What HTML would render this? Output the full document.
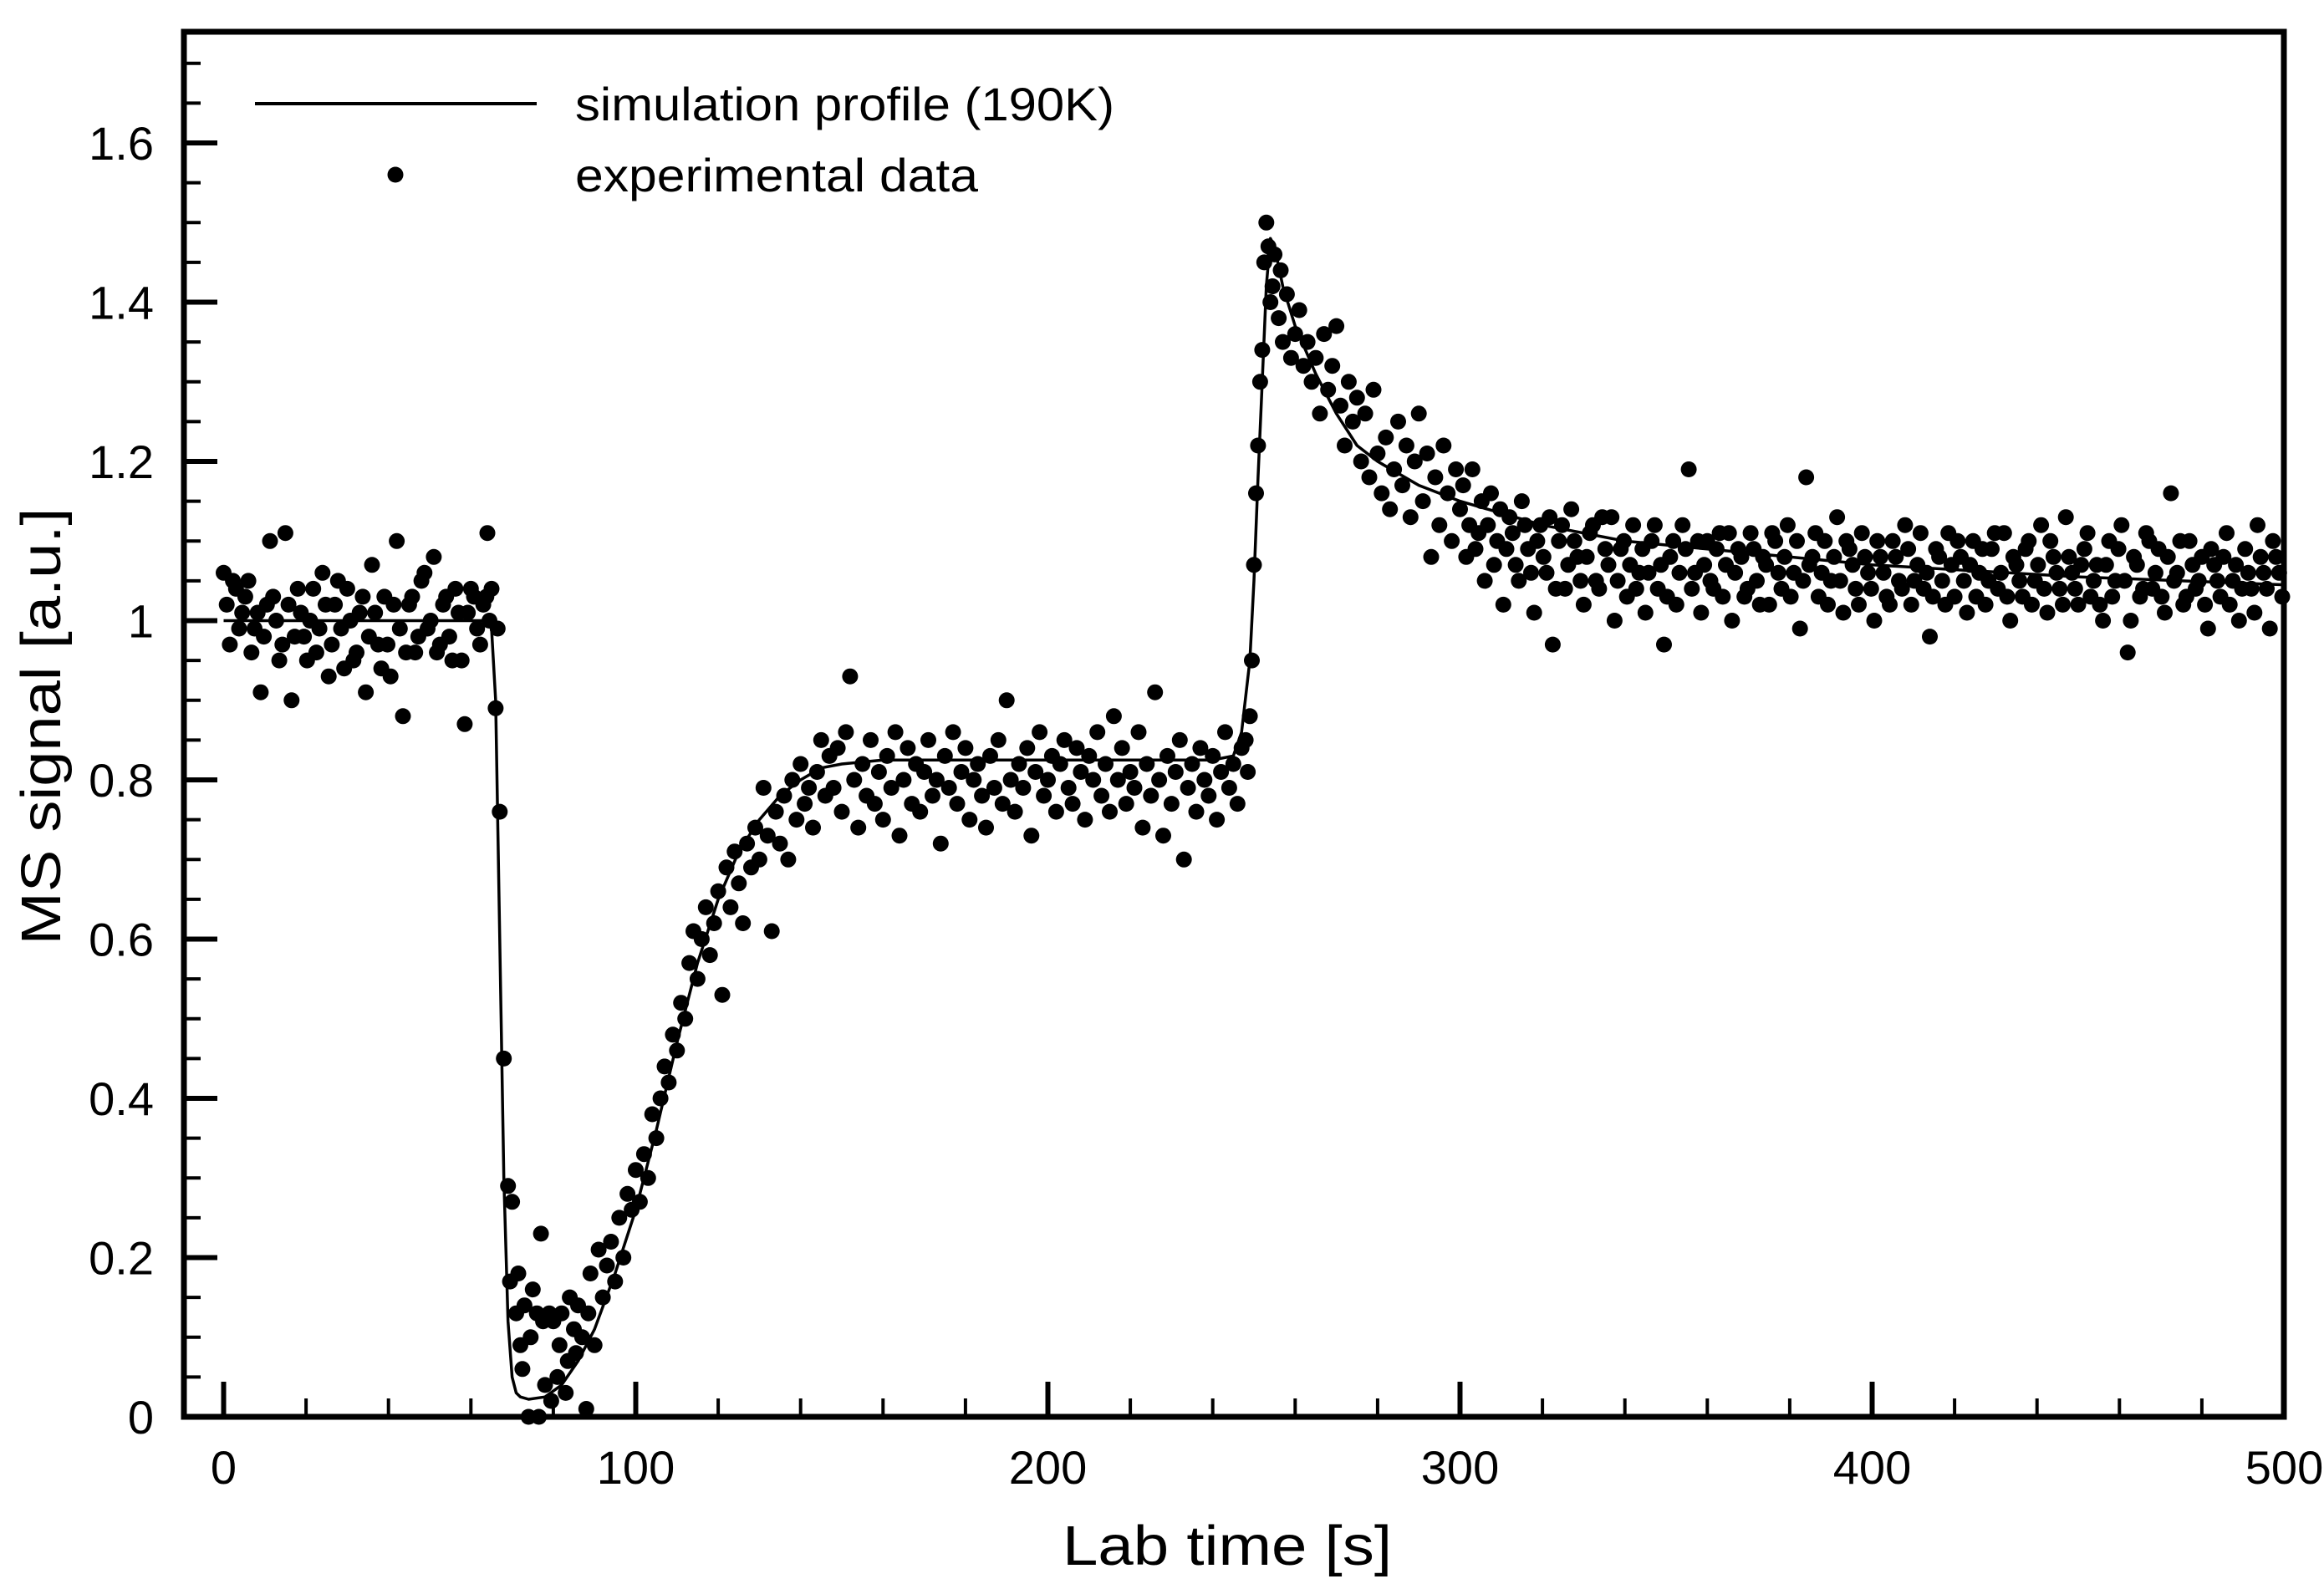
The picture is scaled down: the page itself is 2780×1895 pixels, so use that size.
<!DOCTYPE html>
<html><head><meta charset="utf-8"><style>
html,body{margin:0;padding:0;background:#fff;}
svg{display:block;font-family:"Liberation Sans",Arial,sans-serif;}
</style></head><body>
<svg id="chart" width="2780" height="1895" viewBox="0 0 2780 1895" xmlns="http://www.w3.org/2000/svg">
<rect width="2780" height="1895" fill="#fff"/>
<g id="plot"></g>
<g id="axes"></g>
<g id="legend">
  <line x1="305" y1="124" x2="642" y2="124" stroke="#000" stroke-width="4"/>
  <text x="688" y="144" font-size="56" textLength="645" lengthAdjust="spacingAndGlyphs">simulation profile (190K)</text>
  <circle cx="473" cy="209" r="9.5" fill="#000"/>
  <text x="688" y="229" font-size="56" textLength="482" lengthAdjust="spacingAndGlyphs">experimental data</text>
</g>
<text x="1468" y="1872" font-size="67" text-anchor="middle" textLength="394" lengthAdjust="spacingAndGlyphs">Lab time [s]</text>
<text transform="translate(72,869) rotate(-90)" font-size="67" text-anchor="middle" textLength="523" lengthAdjust="spacingAndGlyphs">MS signal [a.u.]</text>
</svg>
<script>
const xTicks=[0,100,200,300,400,500];
const yTicks=[0,0.2,0.4,0.6,0.8,1,1.2,1.4,1.6];
const yTickLabels=["0","0.2","0.4","0.6","0.8","1","1.2","1.4","1.6"];
const simT=[0,64,65,66,67,68,69,70,71,72,74,78,82,86,90,95,100,105,110,115,120,125,130,135,140,145,150,160,200,240,245,247,249,250,251,252,253,254,255,257,260,265,270,275,280,290,300,320,340,360,400,450,500];
const simV=[1,1,0.99,0.9,0.6,0.3,0.12,0.05,0.03,0.025,0.022,0.025,0.04,0.07,0.11,0.18,0.26,0.36,0.47,0.57,0.65,0.71,0.75,0.78,0.8,0.815,0.82,0.825,0.825,0.825,0.83,0.86,0.95,1.05,1.18,1.3,1.42,1.48,1.47,1.42,1.37,1.31,1.26,1.22,1.2,1.17,1.15,1.12,1.1,1.09,1.07,1.055,1.045];
const baseData=[[0,1.06],[1.5,0.97],[3,1.04],[4.5,1.01],[6,1.05],[7.5,0.99],[9,0.91],[10.5,1.02],[12,1.03],[13.5,0.95],[15,1.11],[16.5,0.9],[18,1.04],[19.5,0.98],[21,1.0],[22.5,0.96],[24,1.06],[25.5,0.93],[27,1.02],[28.5,0.99],[30,1.04],[31.5,0.95],[33,1.01],[34.5,0.91],[36,1.07],[37.5,0.97],[39,1.03],[40.5,0.93],[42,1.1],[43.5,0.88],[45,1.02],[46.5,0.96],[48,1.05],[49.5,0.99],[51,1.08],[52.5,0.97],[54,1.03],[55.5,0.95],[57,1.01],[58.5,0.87],[60,1.04],[61.5,0.99],[63,1.02],[64,1.11],[64.5,1.0],[65,1.04]];
const baseData2=[[0.75,1.02],[2.25,1.05],[3.75,0.99],[5.25,1.03],[6.75,0.96],[8.25,1.01],[9.75,0.98],[11.25,1.1],[12.75,1.0],[14.25,0.97],[15.75,1.02],[17.25,0.98],[18.75,1.01],[20.25,0.95],[21.75,1.04],[23.25,0.99],[24.75,1.02],[26.25,0.97],[27.75,1.05],[29.25,0.94],[30.75,1.0],[32.25,0.96],[33.75,1.03],[35.25,0.98],[36.75,1.01],[38.25,0.94],[39.75,0.97],[41.25,1.02],[42.75,0.99],[44.25,0.96],[45.75,1.03],[47.25,0.98],[48.75,1.06],[50.25,1.0],[51.75,0.96],[53.25,1.02],[54.75,0.98],[56.25,1.04],[57.75,0.95],[59.25,1.01],[60.75,1.03],[62.25,0.97],[63.75,1.03]];
const dropData=[[66,0.89],[66.5,0.99],[67,0.76],[68,0.45],[69,0.29],[69.5,0.17],[70,0.27],[71,0.13],[71.5,0.18],[72,0.09],[72.5,0.06],[73,0.14],[74,0.0],[74.5,0.1],[75,0.16],[76,0.13],[76.5,0.0],[77,0.23],[77.5,0.12],[78,0.04],[79,0.13],[79.5,0.02],[80,0.12],[81,0.05],[81.5,0.09],[82,0.13],[83,0.03],[83.5,0.07],[84,0.15],[85,0.11],[85.5,0.08],[86,0.14],[87,0.1],[88,0.01],[88.5,0.13],[89,0.18],[90,0.09],[91,0.21],[92,0.15],[93,0.19],[94,0.22],[95,0.17],[96,0.25],[97,0.2],[98,0.28],[99,0.26],[100,0.31],[101,0.27],[102,0.33],[103,0.3],[104,0.38],[105,0.35],[106,0.4],[107,0.44],[108,0.42],[109,0.48],[110,0.46],[111,0.52],[112,0.5],[113,0.57],[114,0.61],[115,0.55],[116,0.6],[117,0.64],[118,0.58],[119,0.62],[120,0.66],[121,0.53],[122,0.69],[123,0.64],[124,0.71],[125,0.67],[126,0.62],[127,0.72],[128,0.69],[129,0.74],[130,0.7],[131,0.79],[132,0.73],[133,0.61],[134,0.76],[135,0.72],[136,0.78],[137,0.7],[138,0.8],[139,0.75],[140,0.82],[141,0.77],[142,0.79],[143,0.74],[144,0.81],[145,0.85],[146,0.78],[147,0.83]];
const plateauData=[[148,0.79],[149,0.84],[150,0.76],[151,0.86],[152,0.93],[153,0.8],[154,0.74],[155,0.82],[156,0.78],[157,0.85],[158,0.77],[159,0.81],[160,0.75],[161,0.83],[162,0.79],[163,0.86],[164,0.73],[165,0.8],[166,0.84],[167,0.77],[168,0.82],[169,0.76],[170,0.81],[171,0.85],[172,0.78],[173,0.8],[174,0.72],[175,0.83],[176,0.79],[177,0.86],[178,0.77],[179,0.81],[180,0.84],[181,0.75],[182,0.8],[183,0.82],[184,0.78],[185,0.74],[186,0.83],[187,0.79],[188,0.85],[189,0.77],[190,0.9],[191,0.8],[192,0.76],[193,0.82],[194,0.79],[195,0.84],[196,0.73],[197,0.81],[198,0.86],[199,0.78],[200,0.8],[201,0.83],[202,0.76],[203,0.82],[204,0.85],[205,0.79],[206,0.77],[207,0.84],[208,0.81],[209,0.75],[210,0.83],[211,0.8],[212,0.86],[213,0.78],[214,0.82],[215,0.76],[216,0.88],[217,0.8],[218,0.84],[219,0.77],[220,0.81],[221,0.79],[222,0.86],[223,0.74],[224,0.82],[225,0.78],[226,0.91],[227,0.8],[228,0.73],[229,0.83],[230,0.77],[231,0.81],[232,0.85],[233,0.7],[234,0.79],[235,0.82],[236,0.76],[237,0.84],[238,0.8],[239,0.78],[240,0.83],[241,0.75],[242,0.81],[243,0.86],[244,0.79],[245,0.82],[246,0.77],[247,0.84]];
const spikeData=[[248,0.85],[248.5,0.81],[249,0.88],[249.5,0.95],[250,1.07],[250.5,1.16],[251,1.22],[251.5,1.3],[252,1.34],[252.5,1.45],[253,1.5],[253.5,1.47],[254,1.4],[254.5,1.42],[255,1.46],[256,1.38],[256.5,1.44],[257,1.35],[258,1.41],[259,1.33],[260,1.36],[261,1.39],[262,1.32],[263,1.35],[264,1.3],[265,1.33],[266,1.26],[267,1.36],[268,1.29],[269,1.32],[270,1.37],[271,1.27],[272,1.22],[273,1.3],[274,1.25],[275,1.28],[276,1.2],[277,1.26],[278,1.18],[279,1.29],[280,1.21],[281,1.16],[282,1.23],[283,1.14],[284,1.19],[285,1.25],[286,1.17],[287,1.22],[288,1.13],[289,1.2],[290,1.26],[291,1.15],[292,1.21],[293,1.08],[294,1.18],[295,1.12],[296,1.22],[297,1.16],[298,1.1],[299,1.19]];
const tailData=[[300,1.14],[301.5,1.08],[303,1.19],[304.5,1.11],[306,1.05],[307.5,1.16],[309,1.1],[310.5,1.02],[312,1.13],[313.5,1.07],[315,1.15],[316.5,1.09],[318,1.01],[319.5,1.12],[321,1.06],[322.5,0.97],[324,1.1],[325.5,1.04],[327,1.14],[328.5,1.08],[330,1.02],[331.5,1.11],[333,1.05],[334.5,1.13],[336,1.07],[337.5,1.0],[339,1.09],[340.5,1.03],[342,1.12],[343.5,1.06],[345,1.01],[346.5,1.1],[348,1.04],[349.5,0.97],[351,1.08],[352.5,1.02],[354,1.12],[355.5,1.19],[357,1.06],[358.5,1.01],[360,1.1],[361.5,1.04],[363,1.11],[364.5,1.07],[366,1.0],[367.5,1.09],[369,1.03],[370.5,1.11],[372,1.05],[373.5,1.08],[375,1.02],[376.5,1.1],[378,1.04],[379.5,1.12],[381,1.06],[382.5,0.99],[384,1.18],[385.5,1.08],[387,1.03],[388.5,1.1],[390,1.05],[391.5,1.13],[393,1.01],[394.5,1.09],[396,1.04],[397.5,1.11],[399,1.06],[400.5,1.0],[402,1.08],[403.5,1.03],[405,1.1],[406.5,1.05],[408,1.12],[409.5,1.02],[411,1.07],[412.5,1.04],[414,0.98],[415.5,1.09],[417,1.05],[418.5,1.11],[420,1.03],[421.5,1.08],[423,1.01],[424.5,1.1],[426,1.06],[427.5,1.02],[429,1.09],[430.5,1.04],[432,1.11],[433.5,1.0],[435,1.07],[436.5,1.03],[438,1.1],[439.5,1.05],[441,1.12],[442.5,1.01],[444,1.08],[445.5,1.04],[447,1.13],[448.5,1.06],[450,1.02],[451.5,1.09],[453,1.03],[454.5,1.07],[456,1.0],[457.5,1.1],[459,1.05],[460.5,1.12],[462,0.96],[463.5,1.08],[465,1.03],[466.5,1.11],[468,1.04],[469.5,1.09],[471,1.01],[472.5,1.16],[474,1.06],[475.5,1.02],[477,1.1],[478.5,1.04],[480,1.08],[481.5,0.99],[483,1.07],[484.5,1.03],[486,1.11],[487.5,1.05],[489,1.0],[490.5,1.09],[492,1.04],[493.5,1.12],[495,1.06],[496.5,0.99],[498,1.08],[499.5,1.03]];
const tailData2=[[300.75,1.17],[302.25,1.12],[303.75,1.09],[305.25,1.15],[306.75,1.12],[308.25,1.07],[309.75,1.14],[311.25,1.09],[312.75,1.11],[314.25,1.05],[315.75,1.12],[317.25,1.06],[318.75,1.1],[320.25,1.08],[321.75,1.13],[323.25,1.04],[324.75,1.12],[326.25,1.07],[327.75,1.1],[329.25,1.05],[330.75,1.08],[332.25,1.12],[333.75,1.04],[335.25,1.09],[336.75,1.13],[338.25,1.05],[339.75,1.1],[341.25,1.07],[342.75,1.04],[344.25,1.09],[345.75,1.06],[347.25,1.12],[348.75,1.07],[350.25,1.03],[351.75,1.1],[353.25,1.06],[354.75,1.09],[356.25,1.04],[357.75,1.1],[359.25,1.07],[360.75,1.05],[362.25,1.09],[363.75,1.03],[365.25,1.11],[366.75,1.06],[368.25,1.08],[369.75,1.04],[371.25,1.09],[372.75,1.02],[374.25,1.07],[375.75,1.11],[377.25,1.06],[378.75,1.08],[380.25,1.03],[381.75,1.1],[383.25,1.05],[384.75,1.07],[386.25,1.11],[387.75,1.06],[389.25,1.02],[390.75,1.08],[392.25,1.05],[393.75,1.1],[395.25,1.07],[396.75,1.02],[398.25,1.08],[399.75,1.04],[401.25,1.1],[402.75,1.06],[404.25,1.02],[405.75,1.08],[407.25,1.04],[408.75,1.09],[410.25,1.05],[411.75,1.11],[413.25,1.06],[414.75,1.03],[416.25,1.08],[417.75,1.02],[419.25,1.07],[420.75,1.1],[422.25,1.05],[423.75,1.07],[425.25,1.03],[426.75,1.09],[428.25,1.05],[429.75,1.11],[431.25,1.06],[432.75,1.03],[434.25,1.08],[435.75,1.05],[437.25,1.09],[438.75,1.02],[440.25,1.07],[441.75,1.04],[443.25,1.1],[444.75,1.06],[446.25,1.02],[447.75,1.08],[449.25,1.04],[450.75,1.07],[452.25,1.11],[453.75,1.05],[455.25,1.02],[456.75,1.07],[458.25,1.03],[459.75,1.09],[461.25,1.05],[462.75,1.0],[464.25,1.07],[465.75,1.04],[467.25,1.1],[468.75,1.06],[470.25,1.03],[471.75,1.08],[473.25,1.05],[474.75,1.1],[476.25,1.03],[477.75,1.07],[479.25,1.05],[480.75,1.02],[482.25,1.09],[483.75,1.05],[485.25,1.08],[486.75,1.02],[488.25,1.07],[489.75,1.04],[491.25,1.06],[492.75,1.01],[494.25,1.08],[495.75,1.04],[497.25,1.1],[498.75,1.06]];

const NS="http://www.w3.org/2000/svg";
const L=220,R=2732,T=38,B=1695;
const X0=267.5,XK=4.93;
const YK=(B-171)/1.6;
function sx(t){return X0+t*XK;}
function sy(v){return B-v*YK;}
function mk(tag,attrs,parent){const e=document.createElementNS(NS,tag);for(const k in attrs)e.setAttribute(k,attrs[k]);parent.appendChild(e);return e;}
const plot=document.getElementById('plot');
const axes=document.getElementById('axes');

let d='';
for(let i=0;i<simT.length;i++){d+=(i?'L':'M')+sx(simT[i]).toFixed(1)+','+sy(simV[i]).toFixed(1);}
const simPath=mk('path',{d:d,fill:'none',stroke:'#000','stroke-width':3.5,'stroke-linejoin':'round'},plot);



const allData=[baseData,baseData2,dropData,plateauData,spikeData,tailData,tailData2];
const ptsG=mk('g',{fill:'#000'},plot);


allData.forEach(seg=>seg.forEach(p=>{
  const c=mk('circle',{cx:sx(p[0]).toFixed(1),cy:sy(p[1]).toFixed(1),r:9.5},ptsG);
  
  
}));

const frame=mk('rect',{x:L,y:T,width:R-L,height:B-T,fill:'none',stroke:'#000','stroke-width':7},axes);



for(let t=0;t<=500;t+=20){
  const major=(t%100===0);
  const tk=mk('line',{x1:sx(t),x2:sx(t),y1:B,y2:B-(major?42:22),stroke:'#000','stroke-width':major?6:4},axes);
  
  
}
xTicks.forEach(t=>{
  const tx=mk('text',{x:sx(t),y:1775,'font-size':56,'text-anchor':'middle'},axes);
  tx.textContent=String(t);
  
  
});
for(let i=0;i<=34;i++){
  const v=i*0.05;
  const major=(i%4===0);
  const tk=mk('line',{x1:L,x2:L+(major?40:20),y1:sy(v),y2:sy(v),stroke:'#000','stroke-width':major?6:4},axes);
  
  
}
yTicks.forEach((v,i)=>{
  const tx=mk('text',{x:184,y:sy(v)+20,'font-size':56,'text-anchor':'end'},axes);
  tx.textContent=yTickLabels[i];
  
  
});
</script>
</body></html>
